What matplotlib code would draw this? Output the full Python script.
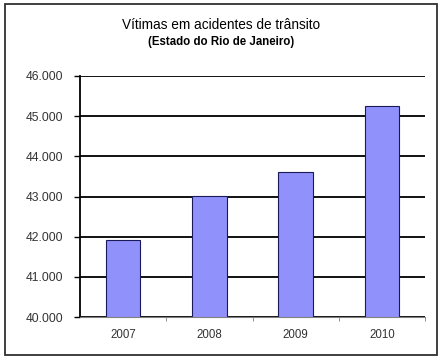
import matplotlib
matplotlib.use("Agg")
import matplotlib.pyplot as plt
import matplotlib.patches as mpatches

# Vitimas em acidentes de transito - Estado do Rio de Janeiro
years = ['2007', '2008', '2009', '2010']
victims = [41920, 43010, 43615, 45250]
yticks = [40000, 41000, 42000, 43000, 44000, 45000, 46000]

plt.rcParams['font.family'] = ['Liberation Sans', 'DejaVu Sans']

fig = plt.figure(figsize=(4.42, 3.6), dpi=100)
ax = fig.add_axes([80/442, 1 - 317/360, 345/442, 241/360])

# outer frame of the chart
fig.patches.append(mpatches.Rectangle((5/442, 1 - 355/360), 432/442, 351/360,
                                      transform=fig.transFigure, fill=False,
                                      edgecolor='#303030', linewidth=1.3))

x = range(len(years))
ax.bar(x, victims, width=0.4, color='#9191fc', edgecolor='#1a1a5a',
       linewidth=0.8, zorder=3)

ax.set_ylim(40000, 46000)
ax.set_xlim(-0.5, 3.5)
ax.set_yticks(yticks)
ax.set_yticklabels(['{:,}'.format(v).replace(',', '.') for v in yticks],
                   color='#333333', fontsize=8.7)
ax.set_xticks(list(x))
ax.set_xticklabels(years, color='#333333', fontsize=8.3)
ax.set_xticks([0.5, 1.5, 2.5, 3.5], minor=True)
ax.tick_params(axis='x', which='major', length=0, pad=9)
ax.tick_params(axis='x', which='minor', length=3, color='#808080')
ax.tick_params(axis='y', length=4, width=1, color='black', pad=8)

ax.grid(axis='y', color='#111111', linewidth=1.4, zorder=0)
ax.set_axisbelow(True)
for s in ['top', 'right']:
    ax.spines[s].set_visible(False)
ax.spines['left'].set_linewidth(1.3)
ax.spines['bottom'].set_color('#808080')
ax.spines['bottom'].set_zorder(4)

fig.text(221/442, 1 - 25/360, 'Vítimas em acidentes de trânsito',
         ha='center', va='center', fontsize=9.8)
fig.text(221/442, 1 - 42/360, '(Estado do Rio de Janeiro)',
         ha='center', va='center', fontsize=8.3, fontweight='bold')

fig.savefig('out.png', dpi=100)
